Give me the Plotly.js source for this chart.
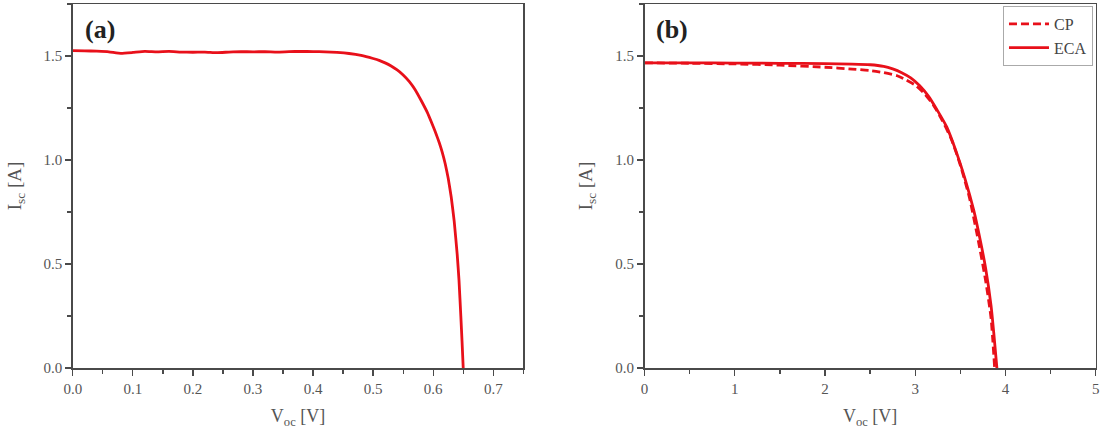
<!DOCTYPE html>
<html>
<head>
<meta charset="utf-8">
<script src="https://cdn.plot.ly/plotly-3.0.1.min.js"></script>
<style>
  html, body { margin: 0; padding: 0; background: #fff; }
  #chart { width: 1104px; height: 429px; }
</style>
</head>
<body>
<div id="chart"></div>
<script>
// Panel (a): single-cell I-V curve
const voltageA = [0, 0.02, 0.04, 0.06, 0.08, 0.10, 0.12, 0.14, 0.16, 0.18, 0.20, 0.22, 0.24, 0.26, 0.28,
  0.30, 0.32, 0.34, 0.36, 0.38, 0.40, 0.42, 0.44, 0.46, 0.48, 0.50, 0.51, 0.52, 0.53, 0.54, 0.55, 0.56, 0.57,
  0.58, 0.59, 0.60, 0.605, 0.61, 0.615, 0.62, 0.625, 0.63, 0.635, 0.64, 0.643, 0.646, 0.648, 0.65];
const currentA = [1.526, 1.525, 1.523, 1.520, 1.513, 1.517, 1.522, 1.520, 1.522, 1.519, 1.518, 1.519, 1.516, 1.519, 1.521,
  1.520, 1.521, 1.519, 1.521, 1.522, 1.521, 1.520, 1.517, 1.512, 1.503, 1.488, 1.479, 1.467, 1.452, 1.433, 1.409, 1.378, 1.338,
  1.286, 1.230, 1.161, 1.124, 1.084, 1.038, 0.982, 0.912, 0.822, 0.705, 0.545, 0.420, 0.250, 0.130, 0.0];

// Panel (b): module I-V curves, CP vs ECA interconnection
const voltageCP = [0, 0.5, 1.0, 1.5, 2.0, 2.3, 2.5, 2.65, 2.8, 2.9, 3.0, 3.1, 3.2, 3.3, 3.4, 3.5, 3.6, 3.7, 3.78, 3.84, 3.88];
const currentCP = [1.467, 1.465, 1.462, 1.456, 1.446, 1.437, 1.430, 1.420, 1.405, 1.385, 1.360, 1.320, 1.265, 1.190, 1.100, 0.975, 0.820, 0.610, 0.420, 0.240, 0.0];

const voltageECA = [0, 0.5, 1.0, 1.5, 2.0, 2.3, 2.5, 2.65, 2.75, 2.85, 2.95, 3.05, 3.15, 3.25, 3.35, 3.45, 3.55, 3.65, 3.72, 3.78, 3.84, 3.87, 3.905];
const currentECA = [1.467, 1.467, 1.466, 1.465, 1.463, 1.461, 1.458, 1.450, 1.438, 1.420, 1.395, 1.357, 1.305, 1.235, 1.158, 1.045, 0.912, 0.755, 0.615, 0.480, 0.300, 0.170, 0.0];

const seriesNames = ['CP', 'ECA'];
const panelLabels = ['(a)', '(b)'];

const red = '#e8101a';
const axisGrey = '#4a4a4a';
const serif = 'Liberation Serif, Times New Roman, serif';

const traces = [
  { x: voltageA, y: currentA, xaxis: 'x', yaxis: 'y', mode: 'lines', showlegend: false,
    line: { color: red, width: 2.8, shape: 'spline', smoothing: 0.4 } },
  { x: voltageCP, y: currentCP, xaxis: 'x2', yaxis: 'y2', mode: 'lines', name: seriesNames[0],
    line: { color: red, width: 2.8, dash: '8px,4px', shape: 'spline', smoothing: 0.6 } },
  { x: voltageECA, y: currentECA, xaxis: 'x2', yaxis: 'y2', mode: 'lines', name: seriesNames[1],
    line: { color: red, width: 2.8, shape: 'spline', smoothing: 0.6 } }
];

function xAxis(domain, range, dtick, minorDtick, fmt, anchor) {
  return {
    domain: domain, range: range, anchor: anchor,
    dtick: dtick, tick0: 0, tickformat: fmt,
    ticks: 'outside', ticklen: 6, tickwidth: 1.3, tickcolor: axisGrey,
    minor: { ticks: 'outside', ticklen: 4, tickwidth: 1.3, tickcolor: axisGrey, dtick: minorDtick },
    showline: true, linecolor: axisGrey, linewidth: 1.5, mirror: true,
    showgrid: false, zeroline: false,
    tickfont: { family: serif, size: 15, color: '#555' },
    title: { text: 'V<sub>oc</sub> [V]', font: { family: serif, size: 18, color: '#555' }, standoff: 14 }
  };
}

function yAxis(anchor) {
  return {
    domain: [0, 1], range: [0, 1.75], anchor: anchor,
    dtick: 0.5, tick0: 0, tickformat: '.1f',
    ticks: 'outside', ticklen: 6, tickwidth: 1.3, tickcolor: axisGrey,
    minor: { ticks: 'outside', ticklen: 4, tickwidth: 1.3, tickcolor: axisGrey, dtick: 0.25 },
    showline: true, linecolor: axisGrey, linewidth: 1.5, mirror: true,
    showgrid: false, zeroline: false,
    tickfont: { family: serif, size: 15, color: '#555' },
    title: { text: 'I<sub>sc</sub> [A]', font: { family: serif, size: 19, color: '#555' }, standoff: 17 }
  };
}

const layout = {
  width: 1104, height: 429,
  margin: { l: 0, r: 0, t: 4, b: 61 },
  paper_bgcolor: '#fff', plot_bgcolor: '#fff',
  xaxis: xAxis([0.0659, 0.474], [0, 0.75], 0.1, 0.05, '.1f', 'y'),
  yaxis: yAxis('x'),
  xaxis2: xAxis([0.5838, 0.9925], [0, 5], 1, 0.5, '', 'y2'),
  yaxis2: yAxis('x2'),
  showlegend: true,
  legend: {
    x: 0.9085, y: 0.9945, xanchor: 'left', yanchor: 'top',
    bgcolor: '#fff', bordercolor: '#aaa', borderwidth: 1,
    font: { family: serif, size: 16, color: '#444' },
    itemwidth: 40,
    tracegroupgap: 0
  },
  annotations: [
    { xref: 'x domain', yref: 'y domain', x: 0.061, y: 0.929, xanchor: 'center', yanchor: 'middle',
      text: '<b>' + panelLabels[0] + '</b>',
      showarrow: false, font: { family: serif, size: 26, color: '#222' } },
    { xref: 'x2 domain', yref: 'y2 domain', x: 0.061, y: 0.929, xanchor: 'center', yanchor: 'middle',
      text: '<b>' + panelLabels[1] + '</b>',
      showarrow: false, font: { family: serif, size: 26, color: '#222' } }
  ]
};

Plotly.newPlot('chart', traces, layout, { displayModeBar: false, staticPlot: true });
</script>
</body>
</html>
